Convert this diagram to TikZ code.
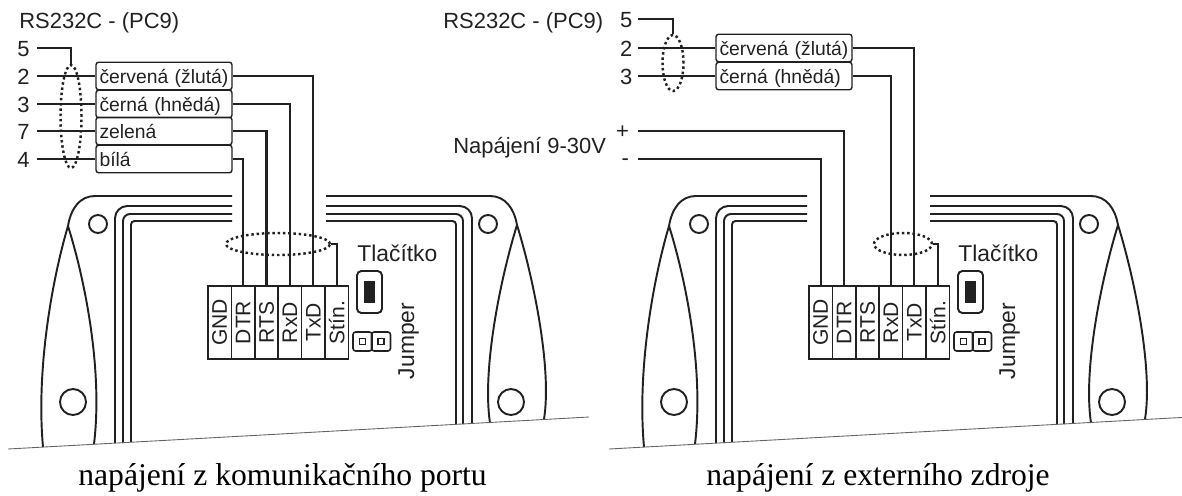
\documentclass[tikz,border=0pt]{standalone}
\usepackage{fontspec}
\setmainfont{Liberation Sans}
\newfontfamily\popisfont{Liberation Serif}
\usetikzlibrary{shapes}
\usetikzlibrary{backgrounds}

\definecolor{cara}{gray}{0.13}

\tikzset{
  wire/.style={draw=cara,line width=1.15pt},
  obrys/.style={draw=cara,line width=1.1pt},
  podlozka/.style={draw=cara!70,line width=0.5pt},
  nadpis/.style={inner sep=0pt,font=\fontsize{12.5}{14}\selectfont,text=cara},
  cislo/.style={anchor=east,inner sep=0pt,inner xsep=#1,text height=10pt,text depth=0pt,font=\fontsize{12.5}{14}\selectfont,text=cara},
  stitek/.style={draw=cara,line width=0.8pt,rounded corners=1.5pt,inner sep=0pt,inner xsep=2pt,text width=2.72cm-4pt,align=left,minimum height=0.55cm,text height=10pt,text depth=2pt,font=\fontsize{11}{13}\selectfont,text=cara},
  svorka/.style={draw=cara,line width=1pt,inner sep=0pt,minimum width=0.468cm,minimum height=1.46cm,font=\fontsize{12}{14}\selectfont,text=cara},
  elipsa/.style={draw=cara,ellipse,inner sep=0pt,line width=1.4pt,dash pattern=on 1.4pt off 1.6pt},
  tlacitko/.style={draw=cara,line width=1.1pt,rounded corners=2.5pt,inner sep=0pt,minimum width=0.5cm,minimum height=0.84cm},
  cerne/.style={fill=cara,inner sep=0pt,minimum width=0.22cm,minimum height=0.44cm},
  jumper/.style={draw=cara,line width=0.9pt,rounded corners=1.5pt,inner sep=0pt,minimum size=0.38cm},
  ctverec/.style={draw=cara,line width=0.9pt,inner sep=0pt,minimum size=0.12cm},
  popisek/.style={inner sep=0pt,font=\popisfont\fontsize{18}{20}\selectfont,anchor=base west},
}

\newcommand{\krabice}[4]{
\begin{scope}[name prefix=#1-,shift={(#2,0)}]
\draw [obrys] (#3,196)--(95,196) .. controls (80,196) and (71,208) .. (68,226);
\draw [obrys] (#4,196)--(490,196) .. controls (505,196) and (514,208) .. (517,225);
\draw [obrys] (68,226) .. controls (52,280) and (36,370) .. (43,447);
\draw [obrys] (68,226) .. controls (85,280) and (103,370) .. (94,444);
\draw [obrys] (517,225) .. controls (500,280) and (482,370) .. (490,423);
\draw [obrys] (517,225) .. controls (534,280) and (552,370) .. (544,419);
\draw [obrys,rounded corners=7pt] (115,443) |- (#3,206);
\draw [obrys,rounded corners=4pt] (123,443) |- (#3,214);
\draw [obrys,rounded corners=2pt] (131,442) |- (#3,221);
\draw [obrys,rounded corners=7pt] (#4,206) -| (472,423);
\draw [obrys,rounded corners=4pt] (#4,214) -| (463,424);
\draw [obrys,rounded corners=2pt] (#4,221) -| (456,424);
\draw [obrys] (98,224) circle (9);
\draw [obrys] (73,402) circle (13);
\draw [obrys] (488,224) circle (9);
\draw [obrys] (511,402) circle (13);
\draw [podlozka] (8,449)--(589,417);
\foreach \jmeno/\napis/\x in {GND/GND/219.7,DTR/DTR/243.1,RTS/RTS/266.5,RxD/RxD/289.9,TxD/TxD/313.3,Stin/Stín./336.7}
  \node [svorka] (\jmeno) at (\x,322.5) {\rotatebox{90}{\napis}};
\node [tlacitko] (btn) at (369.5,292) {};
\node [cerne] (btnin) at (369.5,292) {};
\node [jumper] (jumpA) at (362.5,341.5) {};
\node [jumper] (jumpB) at (381,341.5) {};
\node [ctverec] (jumpAin) at (362.5,341.5) {};
\node [ctverec] (jumpBin) at (381,341.5) {};
\node [nadpis,anchor=base west,font=\fontsize{13}{15}\selectfont] (btntext) at (357,261) {Tlačítko};
\node [nadpis,anchor=base,rotate=90,font=\fontsize{13}{15}\selectfont] (jumptext) at (414,341) {Jumper};
\end{scope}
}

\begin{document}
\begin{tikzpicture}[x=0.02cm,y=-0.02cm]
\useasboundingbox (0,0) rectangle (1182,495);
\krabice{L}{0}{232}{326}
\krabice{R}{601}{206}{329}

\node [nadpis,anchor=base west] (titleL) at (19,28) {RS232C - (PC9)};
\node [cislo=4pt] (L5) at (37,48) {5};
\node [cislo=4pt] (L2) at (37,76) {2};
\node [cislo=4pt] (L3) at (37,104) {3};
\node [cislo=4pt] (L7) at (37,131) {7};
\node [cislo=4pt] (L4) at (37,159) {4};
\node [stitek] (Lred) at (164,76) {červená (žlutá)};
\node [stitek] (Lblack) at (164,104) {černá (hnědá)};
\node [stitek] (Lgreen) at (164,131) {zelená};
\node [stitek] (Lwhite) at (164,159) {bílá};
\node [elipsa,minimum width=0.42cm,minimum height=2.06cm] (Lbundle) at (71,116.5) {};
\node [elipsa,minimum width=2.08cm,minimum height=0.44cm] (Lshield) at (278,244) {};
\draw [wire] (L5.east) -| (Lbundle.north);
\draw [wire] (L2.east)--(Lred.west);
\draw [wire] (L3.east)--(Lblack.west);
\draw [wire] (L7.east)--(Lgreen.west);
\draw [wire] (L4.east)--(Lwhite.west);
\draw [wire] (Lred.east) -| (L-TxD.north);
\draw [wire] (Lblack.east) -| (L-RxD.north);
\draw [wire] (Lgreen.east) -| (L-RTS.north);
\draw [wire] (Lwhite.east) -| (L-DTR.north);
\draw [wire] (Lshield.east) -| (L-Stin.north);

\node [nadpis,anchor=base west] (titleR) at (443,28) {RS232C - (PC9)};
\node [cislo=3pt] (R5) at (638,19) {5};
\node [cislo=3pt] (R2) at (638,48) {2};
\node [cislo=3pt] (R3) at (638,76) {3};
\node [cislo=5pt,text height=8.4pt] (Rplus) at (638,131) {+};
\node [cislo=5pt,text height=7pt] (Rminus) at (638,159) {-};
\node [nadpis,anchor=base west] (napajeni) at (453,153) {Napájení 9-30V};
\node [stitek] (Rred) at (784,48) {červená (žlutá)};
\node [stitek] (Rblack) at (784,76) {černá (hnědá)};
\node [elipsa,minimum width=0.42cm,minimum height=1.12cm] (Rbundle) at (673,63) {};
\node [elipsa,minimum width=1.16cm,minimum height=0.44cm] (Rshield) at (903,244) {};
\draw [wire] (R5.east) -| (Rbundle.north);
\draw [wire] (R2.east)--(Rred.west);
\draw [wire] (R3.east)--(Rblack.west);
\draw [wire] (Rred.east) -| (R-TxD.north);
\draw [wire] (Rblack.east) -| (R-RxD.north);
\draw [wire] (Rplus.east) -| (R-DTR.north);
\draw [wire] (Rminus.east) -| (R-GND.north);
\draw [wire] (Rshield.east) -| (R-Stin.north);

\node [popisek] (captionL) at (78,485) {napájení z komunikačního portu};
\node [popisek] (captionR) at (706,485) {napájení z externího zdroje};
\end{tikzpicture}
\end{document}
